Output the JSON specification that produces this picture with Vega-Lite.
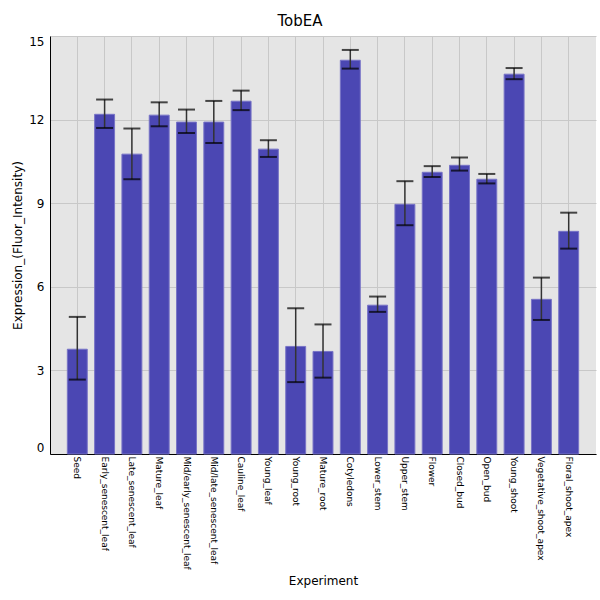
{
  "$schema": "https://vega.github.io/schema/vega-lite/v6.json",
  "width": 546,
  "height": 418,
  "autosize": {"type": "none"},
  "padding": {"left": 50, "top": 36, "right": 4, "bottom": 146},
  "background": "white",
  "title": {"text": "TobEA", "fontSize": 15, "fontWeight": "normal", "font": "DejaVu Sans", "color": "black", "dx": -23, "offset": 6},
  "config": {
    "view": {"fill": "#E5E5E5", "stroke": null},
    "axis": {"labelFont": "DejaVu Sans", "titleFont": "DejaVu Sans", "titleFontWeight": "normal", "labelColor": "black", "titleColor": "black", "domainColor": "black", "gridColor": "#C8C8C8", "gridWidth": 1}
  },
  "data": {
    "values": [
      {"Experiment": "Seed", "value": 3.76, "hi": 4.92, "lo": 2.67},
      {"Experiment": "Early_senescent_leaf", "value": 12.19, "hi": 12.72, "lo": 11.70},
      {"Experiment": "Late_senescent_leaf", "value": 10.76, "hi": 11.68, "lo": 9.86},
      {"Experiment": "Mature_leaf", "value": 12.16, "hi": 12.62, "lo": 11.76},
      {"Experiment": "Mid/early_senescent_leaf", "value": 11.91, "hi": 12.36, "lo": 11.52},
      {"Experiment": "Mid/late_senescent_leaf", "value": 11.91, "hi": 12.67, "lo": 11.16},
      {"Experiment": "Cauline_leaf", "value": 12.66, "hi": 13.04, "lo": 12.34},
      {"Experiment": "Young_leaf", "value": 10.94, "hi": 11.26, "lo": 10.66},
      {"Experiment": "Young_root", "value": 3.86, "hi": 5.23, "lo": 2.58},
      {"Experiment": "Mature_root", "value": 3.68, "hi": 4.65, "lo": 2.74},
      {"Experiment": "Cotyledons", "value": 14.13, "hi": 14.50, "lo": 13.83},
      {"Experiment": "Lower_stem", "value": 5.34, "hi": 5.65, "lo": 5.10},
      {"Experiment": "Upper_stem", "value": 8.96, "hi": 9.79, "lo": 8.21},
      {"Experiment": "Flower", "value": 10.11, "hi": 10.33, "lo": 9.94},
      {"Experiment": "Closed_bud", "value": 10.36, "hi": 10.64, "lo": 10.17},
      {"Experiment": "Open_bud", "value": 9.86, "hi": 10.05, "lo": 9.71},
      {"Experiment": "Young_shoot", "value": 13.63, "hi": 13.85, "lo": 13.45},
      {"Experiment": "Vegetative_shoot_apex", "value": 5.55, "hi": 6.33, "lo": 4.81},
      {"Experiment": "Floral_shoot_apex", "value": 7.99, "hi": 8.66, "lo": 7.37}
    ]
  },
  "encoding": {
    "x": {
      "field": "Experiment", "type": "nominal", "sort": null,
      "scale": {"paddingInner": 0.27, "paddingOuter": 0.635},
      "axis": {"title": "Experiment", "labelAngle": 90, "labelFontSize": 9, "titleFontSize": 12, "ticks": false, "labelPadding": 2, "grid": true, "bandPosition": 0.5, "titlePadding": 6}
    }
  },
  "layer": [
    {
      "mark": {"type": "bar", "color": "#4B47B3", "stroke": "#7773C6", "strokeWidth": 1},
      "encoding": {
        "y": {"field": "value", "type": "quantitative", "scale": {"domain": [0, 15], "nice": false},
          "axis": {"title": "Expression_(Fluor_Intensity)", "values": [0, 3, 6, 9, 12, 15], "labelFontSize": 12, "titleFontSize": 12, "ticks": false, "labelFlush": true, "labelPadding": 6, "grid": true}}
      }
    },
    {
      "mark": {"type": "rule", "color": "#333333", "strokeWidth": 1.5},
      "encoding": {
        "y": {"field": "lo", "type": "quantitative"},
        "y2": {"field": "hi"}
      }
    },
    {
      "mark": {"type": "tick", "color": "black", "size": 17, "thickness": 2},
      "encoding": {"y": {"field": "hi", "type": "quantitative"}}
    },
    {
      "mark": {"type": "tick", "color": "black", "size": 17, "thickness": 2},
      "encoding": {"y": {"field": "lo", "type": "quantitative"}}
    }
  ]
}
